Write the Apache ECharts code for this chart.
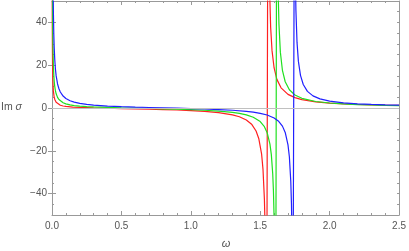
<!DOCTYPE html>
<html>
<head>
<meta charset="utf-8">
<script src="https://cdn.jsdelivr.net/npm/echarts@6/dist/echarts.min.js"></script>
<style>
html,body{margin:0;padding:0;background:#fff;}
#chart{width:409px;height:251px;}
</style>
</head>
<body>
<div id="chart"></div>
<script>
// ω tick labels and Im σ tick labels
const xTicks = [0.0, 0.5, 1.0, 1.5, 2.0, 2.5];
const yTicks = [-40, -20, 0, 20, 40];

// red curve
const redOmega = [0.001,0.002,0.003,0.004,0.006,0.008,0.01,0.015,0.02,0.03,0.04,0.06,0.08,0.1,0.15,0.2,0.3,0.4,0.5,0.6,0.7,0.8,0.9,1.0,1.1,1.2,1.3,1.35,1.4,1.44,1.47,1.49,1.51,1.52,1.53,1.535,1.54,1.545,1.557,1.562,1.567,1.575,1.585,1.6,1.62,1.65,1.7,1.75,1.8,1.9,2.0,2.1,2.2,2.3,2.4,2.5];
const redIm = [80,40,26.7,20,13.3,10,7.99,5.32,3.99,2.64,1.97,1.29,0.94,0.725,0.42,0.248,0.034,-0.121,-0.258,-0.395,-0.544,-0.716,-0.926,-1.20,-1.58,-2.17,-3.21,-4.11,-5.60,-7.75,-10.76,-14.40,-21.6,-28.7,-42.5,-55.9,-81.5,-149,151,82.2,56.5,37.8,26.8,18.7,13.38,9.42,6.37,4.84,3.93,2.88,2.30,1.92,1.66,1.47,1.32,1.20];

// green curve
const greenOmega = [0.003,0.004,0.005,0.006,0.008,0.01,0.013,0.016,0.02,0.025,0.03,0.04,0.05,0.06,0.08,0.1,0.13,0.16,0.2,0.25,0.3,0.4,0.5,0.6,0.7,0.8,0.9,1.0,1.1,1.2,1.3,1.35,1.4,1.45,1.5,1.53,1.55,1.57,1.58,1.59,1.595,1.6,1.605,1.61,1.62,1.625,1.63,1.635,1.645,1.66,1.68,1.71,1.75,1.8,1.9,2.0,2.1,2.2,2.3,2.4,2.5];
const greenIm = [66.7,50,40,33.3,25,19.99,15.38,12.49,9.99,7.99,6.65,4.98,3.97,3.30,2.45,1.94,1.46,1.15,0.88,0.65,0.48,0.25,0.07,-0.08,-0.23,-0.38,-0.55,-0.76,-1.04,-1.43,-2.04,-2.52,-3.21,-4.31,-6.36,-8.75,-11.56,-16.88,-21.8,-30.7,-38.5,-51.5,-77.6,-157,153,77.4,51.8,39.0,26.1,17.55,12.27,8.5,6.08,4.52,3.05,2.33,1.90,1.62,1.42,1.26,1.14];

// blue curve
const blueOmega = [0.006,0.008,0.01,0.013,0.016,0.02,0.025,0.03,0.04,0.05,0.06,0.08,0.1,0.13,0.16,0.2,0.25,0.3,0.4,0.5,0.6,0.7,0.8,0.9,1.0,1.1,1.2,1.3,1.4,1.45,1.5,1.55,1.6,1.63,1.66,1.68,1.7,1.71,1.72,1.725,1.73,1.735,1.747,1.752,1.757,1.765,1.775,1.79,1.81,1.84,1.88,1.93,2.0,2.1,2.2,2.3,2.4,2.5];
const blueIm = [75,56.25,45,34.6,28.1,22.49,17.99,14.99,11.23,8.98,7.47,5.59,4.45,3.40,2.74,2.15,1.68,1.35,0.92,0.64,0.42,0.24,0.08,-0.09,-0.26,-0.47,-0.72,-1.06,-1.57,-1.95,-2.49,-3.29,-4.64,-6.04,-8.47,-11.41,-17.2,-22.9,-34.1,-44.9,-65.6,-121,121,66.3,45.8,30.65,21.77,15.25,10.96,7.76,5.65,4.26,3.22,2.42,1.97,1.67,1.46,1.31];

const zip = (xs, ys) => xs.map((x, i) => [x, ys[i]]);

const FRAME = '#999999';
const LABEL = '#555555';
const FONT = 'Liberation Sans';

function xAx(pos, showLabel) {
  return {
    type: 'value', position: pos, min: 0, max: 2.5, interval: 0.5,
    axisLine: {show: true, onZero: false, lineStyle: {color: FRAME, width: 1}},
    axisTick: {show: true, inside: true, length: 4, lineStyle: {color: FRAME}},
    minorTick: {show: true, splitNumber: 5, length: 2, lineStyle: {color: FRAME}},
    splitLine: {show: false},
    axisLabel: {show: showLabel, margin: 6, color: LABEL, fontFamily: FONT, fontSize: 10,
      formatter: v => Number(v).toFixed(1), customValues: showLabel ? xTicks : undefined}
  };
}
function yMinor(pos) {
  return {
    type: 'value', position: pos, min: -50, max: 50, interval: 5,
    axisLine: {show: true, onZero: false, lineStyle: {color: FRAME, width: 1}},
    axisTick: {show: true, inside: true, length: 2, lineStyle: {color: FRAME}},
    splitLine: {show: false},
    axisLabel: {show: false}
  };
}
function yMajor(pos, showLabel) {
  return {
    type: 'value', position: pos, min: -50, max: 50, interval: 10,
    axisLine: {show: false},
    axisTick: {show: true, inside: true, length: 4, lineStyle: {color: FRAME}, customValues: yTicks},
    splitLine: {show: false},
    axisLabel: {show: showLabel, margin: 5, color: LABEL, fontFamily: FONT, fontSize: 10,
      customValues: yTicks, formatter: v => (v < 0 ? '\u2212' + Math.abs(v) : String(v))}
  };
}

const chart = echarts.init(document.getElementById('chart'), null, {renderer: 'canvas'});
const lineSeries = (name, color, data) => ({
  name, type: 'line', data, xAxisIndex: 0, yAxisIndex: 0,
  showSymbol: false, symbol: 'none', clip: true, z: 3,
  lineStyle: {color, width: 1.2}, animation: false
});

chart.setOption({
  animation: false,
  grid: {left: 52, right: 8, top: 1, bottom: 36, containLabel: false},
  xAxis: [xAx('bottom', true), xAx('top', false)],
  yAxis: [yMinor('left'), yMajor('left', true), yMinor('right'), yMajor('right', false)],
  graphic: [
    {type: 'text', left: 1, top: 102, silent: true,
      style: {text: '{a|Im }{b|σ}', rich: {
        a: {fontFamily: FONT, fontSize: 10.5, fill: LABEL},
        b: {fontFamily: FONT, fontSize: 10.5, fontStyle: 'italic', fill: LABEL}
      }}},
    {type: 'text', x: 226, y: 244, silent: true,
      style: {text: 'ω', fontFamily: FONT, fontSize: 11, fontStyle: 'italic', fill: LABEL,
        align: 'center', verticalAlign: 'middle'}}
  ],
  series: [
    {type: 'line', data: [], xAxisIndex: 0, yAxisIndex: 0, z: 1,
      markLine: {silent: true, symbol: 'none', label: {show: false}, animation: false,
        lineStyle: {color: '#c0c0c0', width: 1, type: 'solid'}, data: [{yAxis: 0}]}},
    lineSeries('red', '#ff2020', zip(redOmega, redIm)),
    lineSeries('green', '#20e020', zip(greenOmega, greenIm)),
    lineSeries('blue', '#2020ff', zip(blueOmega, blueIm))
  ]
});
</script>
</body>
</html>
